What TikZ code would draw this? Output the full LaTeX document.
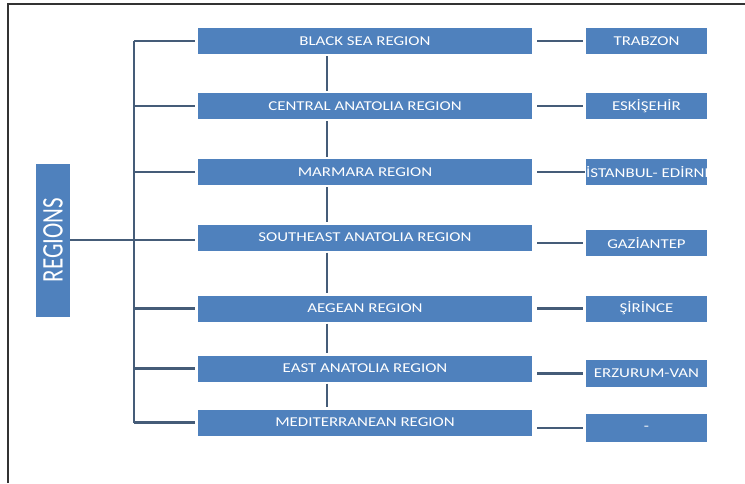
\documentclass[tikz,border=0pt]{standalone}
\usepackage{fontspec}
\usepackage{graphicx}
\setmainfont{Carlito}[FakeStretch=1.25]
\newfontfamily\plainfont{Carlito}
\usepackage{tikz}
\usetikzlibrary{positioning}

\definecolor{boxblue}{HTML}{4F81BD}
\definecolor{linkgray}{HTML}{455C78}

\tikzset{
  regionbox/.style={fill=boxblue, text=white, minimum width=334pt, minimum height=26pt, inner sep=0pt, font=\fontsize{13.5}{15}\selectfont},
  citybox/.style={fill=boxblue, text=white, minimum width=121pt, minimum height=26pt, inner sep=0pt, font=\fontsize{13.5}{15}\selectfont},
  link/.style={draw=linkgray, line width=2.4pt}
}

\begin{document}
\begin{tikzpicture}[x=1pt,y=-1pt]
            \useasboundingbox (0,0) rectangle (745,483);
            % frame
            \draw[line width=1.3pt, black!80] (8,483) -- (8,4) -- (745,4);

            % root
            \node[fill=boxblue, text=white, minimum width=34pt, minimum height=153pt, inner sep=0pt] (regions) at (53,240)
                {\rotatebox{90}{\scalebox{1}[1.3]{\plainfont\fontsize{23}{26}\selectfont REGIONS}}};

            % regions
            \node[regionbox] (bs)  at (365,41)    {BLACK SEA REGION};
            \node[regionbox] (ca)  at (365,106)   {CENTRAL ANATOLIA REGION};
            \node[regionbox] (mr)  at (365,172)   {MARMARA REGION};
            \node[regionbox] (sea) at (365,237.5) {SOUTHEAST ANATOLIA REGION};
            \node[regionbox] (ae)  at (365,308.5) {AEGEAN REGION};
            \node[regionbox] (ea)  at (365,368.5) {EAST ANATOLIA REGION};
            \node[regionbox] (md)  at (365,422.5) {MEDITERRANEAN REGION};

            % cities
            \node[citybox] (trabzon)   at (646.5,41)    {TRABZON};
            \node[citybox] (eskisehir) at (646.5,106)   {ESKİŞEHİR};
            \node[citybox] (istanbul)  at (646.5,172)   {\makebox[100pt]{\hspace{6pt}İSTANBUL- EDİRNE}};
            \node[citybox] (gaziantep) at (646.5,243)   {GAZİANTEP};
            \node[citybox] (sirince)   at (646.5,308.5) {ŞİRİNCE};
            \node[citybox, minimum height=27pt] (erzurum) at (646.5,373.5) {ERZURUM-VAN};
            \node[citybox, minimum height=28pt] (nocity)  at (646.5,428)   {-};

            % spine
            \coordinate (spinetop) at (134,41);
            \coordinate (spinebot) at (134,422.5);
            \draw[link] (spinetop) -- (spinebot);
            \draw[link, shorten >=3pt] (regions.east |- regions) -- (regions -| sea.west);
            \foreach \r in {bs,ca,mr,ae,ea,md}
              \draw[link, shorten >=3pt] (\r.west -| spinetop) -- (\r.west);

            % chain between regions
            \draw[link, shorten <=2pt, shorten >=2pt] (bs.south -| 327,0) -- (ca.north -| 327,0);
            \draw[link, shorten <=2pt, shorten >=2pt] (ca.south -| 327,0) -- (mr.north -| 327,0);
            \draw[link, shorten <=2pt, shorten >=2pt] (mr.south -| 327,0) -- (sea.north -| 327,0);
            \draw[link, shorten <=2pt, shorten >=2pt] (sea.south -| 327,0) -- (ae.north -| 327,0);
            \draw[link, shorten <=2pt, shorten >=2pt] (ae.south -| 327,0) -- (ea.north -| 327,0);
            \draw[link, shorten <=2pt, shorten >=2pt] (ea.south -| 327,0) -- (md.north -| 327,0);

            % region to city
            \draw[link, shorten <=5pt, shorten >=3pt] (trabzon.west -| bs.east) -- (trabzon.west);
            \draw[link, shorten <=5pt, shorten >=3pt] (eskisehir.west -| ca.east) -- (eskisehir.west);
            \draw[link, shorten <=5pt, shorten >=1pt] (istanbul.west -| mr.east) -- (istanbul.west);
            \draw[link, shorten <=5pt, shorten >=3pt] (gaziantep.west -| sea.east) -- (gaziantep.west);
            \draw[link, shorten <=5pt, shorten >=3pt] (sirince.west -| ae.east) -- (sirince.west);
            \draw[link, shorten <=5pt, shorten >=3pt] (erzurum.west -| ea.east) -- (erzurum.west);
            \draw[link, shorten <=5pt, shorten >=3pt] (nocity.west -| md.east) -- (nocity.west);
        \end{tikzpicture}
\end{document}
